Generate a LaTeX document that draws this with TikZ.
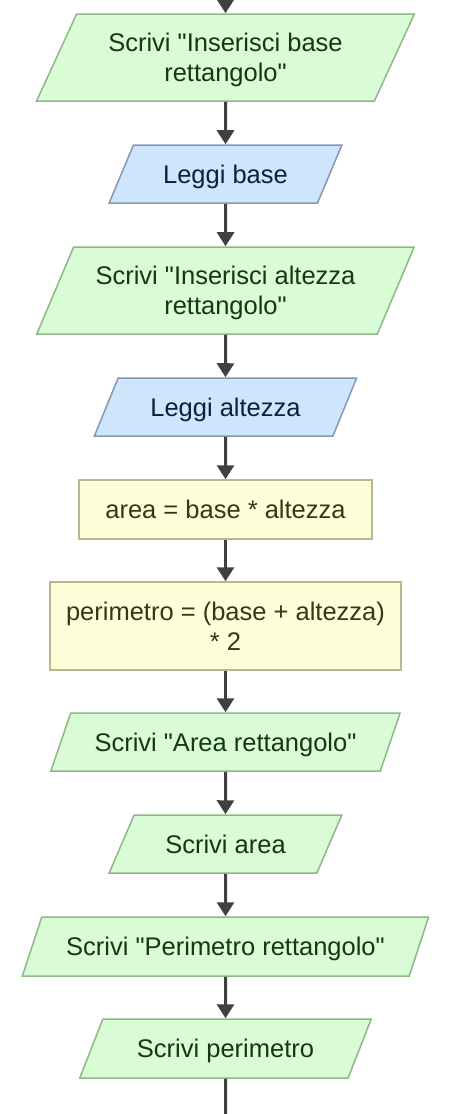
\documentclass[tikz,border=0pt]{standalone}
\usepackage{fontspec}
\setmainfont{Liberation Sans}[Ligatures=TeXOff]
\usetikzlibrary{shapes.geometric,arrows.meta}
\definecolor{gfill}{HTML}{D9FBD6}
\definecolor{gdraw}{HTML}{8DB886}
\definecolor{gtext}{HTML}{143814}
\definecolor{bfill}{HTML}{CFE5FC}
\definecolor{bdraw}{HTML}{8299B2}
\definecolor{btext}{HTML}{0C2040}
\definecolor{yfill}{HTML}{FEFED8}
\definecolor{ydraw}{HTML}{B8B88C}
\definecolor{ytext}{HTML}{383616}
\definecolor{arrowc}{HTML}{404040}
\newcommand\lnx[1]{\rule[-5.9pt]{0pt}{30pt}#1}
\begin{document}
\begin{tikzpicture}[x=1pt,y=-1pt,
  base/.style={line width=1.5pt,align=center,inner sep=2pt,
    font=\fontsize{25.5}{30}\selectfont},
  io/.style={base,trapezium,trapezium left angle=63.4,trapezium right angle=116.6,
    trapezium stretches=true},
  wout/.style={io,fill=gfill,draw=gdraw,text=gtext},
  rin/.style={io,fill=bfill,draw=bdraw,text=btext},
  proc/.style={base,rectangle,fill=yfill,draw=ydraw,text=ytext},
  arr/.style={line width=3pt,draw=arrowc,-{Triangle[length=14pt,width=17pt]}},
  plain/.style={line width=3pt,draw=arrowc}]
\useasboundingbox (0,0) rectangle (453,1114);
\coordinate (start) at (225.5,0);
\coordinate (end) at (225.5,1114);
\node[wout,minimum width=379pt,minimum height=87pt] (p1) at (225.5,57.5) {\lnx{Scrivi "Inserisci base}\\\lnx{rettangolo"}};
\node[rin,minimum width=233pt,minimum height=58pt] (l1) at (225.5,174) {\lnx{Leggi base}};
\node[wout,minimum width=379pt,minimum height=87pt] (p3) at (225.5,290.5) {\lnx{Scrivi "Inserisci altezza}\\\lnx{rettangolo"}};
\node[rin,minimum width=263pt,minimum height=58pt] (l2) at (225.5,407) {\lnx{Leggi altezza}};
\node[proc,minimum width=293pt,minimum height=59pt] (r1) at (225.5,509.5) {\lnx{area = base * altezza}};
\node[proc,minimum width=351pt,minimum height=88pt] (r2) at (225.5,626) {\lnx{perimetro = (base + altezza)}\\\lnx{* 2}};
\node[wout,minimum width=350pt,minimum height=58pt] (p7) at (225.5,742) {\lnx{Scrivi "Area rettangolo"}};
\node[wout,minimum width=233pt,minimum height=58pt] (p8) at (225.5,844) {\lnx{Scrivi area}};
\node[wout,minimum width=408pt,minimum height=59pt] (p9) at (225.5,946.5) {\lnx{Scrivi "Perimetro rettangolo"}};
\node[wout,minimum width=292pt,minimum height=59pt] (p10) at (225.5,1048.5) {\lnx{Scrivi perimetro}};
\draw[arr] (start) -- (p1);
\draw[arr] (p1) -- (l1);
\draw[arr] (l1) -- (p3);
\draw[arr] (p3) -- (l2);
\draw[arr] (l2) -- (r1);
\draw[arr] (r1) -- (r2);
\draw[arr] (r2) -- (p7);
\draw[arr] (p7) -- (p8);
\draw[arr] (p8) -- (p9);
\draw[arr] (p9) -- (p10);
\draw[plain] (p10) -- (end);
\end{tikzpicture}
\end{document}
